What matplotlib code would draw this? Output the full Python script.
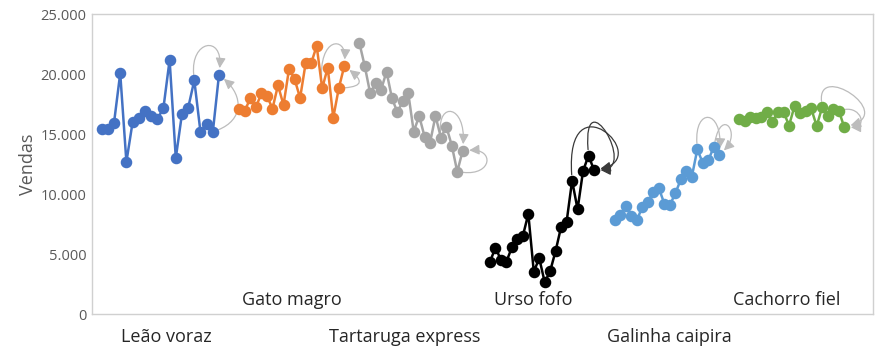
import numpy as np
import matplotlib.pyplot as plt
from matplotlib.ticker import FuncFormatter
from matplotlib.patches import FancyArrowPatch
from matplotlib.path import Path
from matplotlib.transforms import IdentityTransform

plt.rcParams['font.family'] = ['Open Sans', 'DejaVu Sans']

# groups, left to right
groups = ['Leão voraz', 'Gato magro', 'Tartaruga express',
          'Urso fofo', 'Galinha caipira', 'Cachorro fiel']
colors = ['#4472C4', '#ED7D31', '#A5A5A5', '#000000', '#5B9BD5', '#70AD47']

# sales per group (20 points each)
leao = [15420, 15420, 15950, 20060, 12670, 15970, 16310, 16920, 16500, 16220,
        17170, 21170, 13000, 16670, 17170, 19470, 15170, 15840, 15170, 19950]
gato = [17060, 16950, 17980, 17230, 18390, 18200, 17110, 19060, 17420, 20420,
        19590, 18000, 20890, 20890, 22340, 18810, 20530, 16360, 18810, 20670]
tartaruga = [22610, 20670, 18390, 19230, 18670, 20200, 17980, 16810, 17750, 18390,
             15200, 16500, 14780, 14280, 16500, 14700, 15610, 14030, 11860, 13610]
urso = [4360, 5530, 4500, 4360, 5560, 6230, 6500, 8340, 3530, 4640,
        2640, 3590, 5280, 7280, 7700, 11110, 8730, 11920, 13200, 12000]
galinha = [7840, 8250, 9000, 8170, 7840, 8950, 9360, 10200, 10480, 9170,
           9090, 10060, 11230, 11950, 11450, 13730, 12560, 12840, 13890, 13250]
cachorro = [16230, 16120, 16450, 16310, 16450, 16860, 15980, 16860, 16860, 15700,
            17340, 16730, 16950, 17140, 15670, 17230, 16500, 17060, 16950, 15560]
series = [leao, gato, tartaruga, urso, galinha, cachorro]

# horizontal layout (axis runs 0..781)
x_start = [9.7, 147.3, 267.3, 398, 523, 647.3]
x_end = [127, 252.3, 370.7, 502, 627.3, 752.3]
label_x = [74, 199.5, 312.5, 441, 577, 695]
label_row = [0, 1, 0, 1, 0, 1]

# curved arrows into the last point: (from index, start handle, end handle) in pixels
loops = [
    [(15, (-4, 40), (4, 40)), (18, (30, 12), (25, -22))],
    [(15, (-4, 52), (2, 30)), (18, (25, 2), (18, -14))],
    [(15, (-3, 36), (3, 46)), (18, (35, -4), (32, 2))],
    [(15, (-7, 104), (60, 12)), (18, (-6, 78), (44, 0))],
    [(15, (-3, 42), (3, 46)), (18, (8, 40), (22, 22))],
    [(15, (-5, 45), (50, 15)), (18, (22, 4), (24, 0))],
]

fig = plt.figure(figsize=(8.94, 3.57), dpi=100)
ax = fig.add_axes([92 / 894, 43 / 357, 781 / 894, 300 / 357])
ax.set_xlim(0, 781)
ax.set_ylim(0, 25000)


def loop_arrow(p0, p1, h0, h1, color):
    p0, p1 = np.asarray(p0, float), np.asarray(p1, float)
    h0, h1 = np.asarray(h0, float), np.asarray(h1, float)
    a = p0 + h0 / np.hypot(*h0) * 6
    b = p1 + h1 / np.hypot(*h1) * 6.5
    verts = [a, p0 + h0, p1 + h1, b]
    path = Path(verts, [Path.MOVETO, Path.CURVE4, Path.CURVE4, Path.CURVE4])
    arr = FancyArrowPatch(path=path, arrowstyle='-|>,head_length=0.6,head_width=0.3',
                          mutation_scale=10, color=color, lw=0.9,
                          transform=IdentityTransform(), zorder=2, clip_on=False)
    ax.add_artist(arr)


for g, vals in enumerate(series):
    xs = np.linspace(x_start[g], x_end[g], len(vals))
    ax.plot(xs, vals, color=colors[g], lw=1.8, marker='o', markersize=7.3, zorder=3)
    arc_color = '#3a3a3a' if colors[g] == '#000000' else '#bcbcbc'
    pts = ax.transData.transform(np.column_stack([xs, vals]))
    for i, h0, h1 in loops[g]:
        loop_arrow(pts[i], pts[-1], h0, h1, arc_color)
    y_lab = 0.047 if label_row[g] else -0.077
    ax.text(label_x[g], y_lab, groups[g], transform=ax.get_xaxis_transform(),
            ha='center', va='center', fontsize=13, color='#262626')

ax.set_yticks(range(0, 25001, 5000))
ax.yaxis.set_major_formatter(FuncFormatter(lambda v, p: f'{int(v):,}'.replace(',', '.')))
ax.set_xticks([])
ax.tick_params(axis='y', length=0, labelsize=10.5, labelcolor='#595959', pad=4)
ax.set_ylabel('Vendas', fontsize=13, color='#595959', labelpad=2.5)
for s in ax.spines.values():
    s.set_color('#d0d0d0')
    s.set_linewidth(1)

plt.savefig('out.png', dpi=100)
